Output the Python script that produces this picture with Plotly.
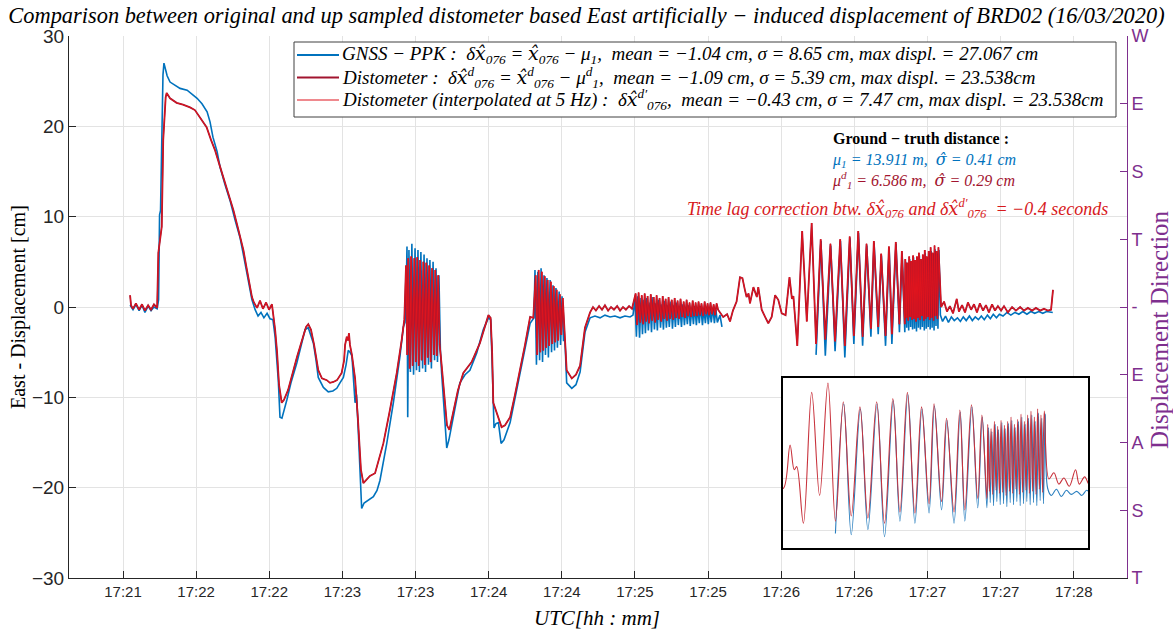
import plotly.graph_objects as go

# ---------------- data (time in s after 17:21:00, displacement in cm) ----------------
tick_vals = [45, 75, 105, 135, 165, 195, 225, 255, 285, 315, 345, 375, 405, 435]
tick_text = ["17:21", "17:22", "17:22", "17:23", "17:23", "17:24", "17:24", "17:25",
             "17:25", "17:26", "17:26", "17:27", "17:27", "17:28"]
dir_vals = [-30, -22.5, -15, -7.5, 0, 7.5, 15, 22.5, 30]
dir_text = ["T", "S", "A", "E", "-", "T", "S", "E", "W"]

# GNSS-PPK
gnss_t_a = [47.9,49.1,50.3,51.6,52.8,54.0,55.3,56.5,57.7,59.0,59.6,60.0,60.4,61.0,61.4,61.8,62.4,63.1,64.3,65.9,
            68.4,71.3,73.7,75.4,77.4,79.5,80.7,81.9,83.6,84.8,86.8,88.9,91.0,93.0,94.6,95.9,97.1,97.9,99.2,100.4,
            101.6,102.8,104.1,105.3,106.5]
gnss_v_a = [0.2,-0.3,0.3,-0.4,0.2,-0.6,0.1,-0.4,0.0,-0.2,0.8,10.2,10.7,20.7,25.7,27.0,26.2,25.6,24.9,24.6,
            24.2,24.0,23.5,23.1,22.5,21.6,20.5,18.8,17.2,15.5,13.6,11.8,9.6,7.7,5.5,3.8,1.9,0.8,-0.3,-1.0,
            -0.6,-1.2,-0.7,-1.3,-1.4]
gnss_t_b = [107.4,108.1,108.7,109.4,110.2,112.2,113.9,116.3,118.0,119.7,121.0,122.1,123.1,124.2,125.1,127.2,129.2,131.1,132.7,134.0,
            135.4,136.5,137.4,138.1,138.9,140.2,140.8,141.5,142.5,142.9,143.9,145.5,147.7,149.2,150.4,153.2,155.9,158.6,160.0,160.7]
gnss_v_b = [-3.3,-5.9,-8.1,-12.2,-12.3,-10.3,-8.4,-6.2,-4.2,-2.5,-2.3,-3.1,-4.0,-5.9,-7.8,-8.9,-9.4,-9.3,-9.0,-8.4,
            -7.8,-6.4,-4.8,-5.0,-5.4,-10.6,-9.7,-13.6,-20.3,-22.3,-21.7,-21.4,-21.0,-20.3,-19.2,-15.1,-10.6,-5.5,-2.2,-1.7]
gnss_t_burst1 = [161.1,161.5,161.8,162.3,162.9,163.5,164.2,164.8,165.4,166.0,166.6,167.2,167.9,168.5,169.1,169.7,170.3,170.9,171.5,172.2,
                 172.8,173.4,174.0,174.6,175.2,175.7]
gnss_v_burst1 = [0.8,6.7,-12.2,6.3,-7.2,7.0,-7.5,6.5,-7.0,6.3,-7.2,6.1,-6.8,5.8,-7.2,5.4,-6.4,5.2,-6.8,5.0,
                 -5.9,4.3,-6.1,3.5,-4.8,-7.3]
gnss_t_c = [176.7,177.8,178.7,180.5,183.2,185.3,187.3,190.1,192.8,194.9,195.8,196.4,197.2,198.0,199.0,200.1,201.3,203.8,206.5,209.2,
            212.0,213.6]
gnss_v_c = [-11.4,-15.6,-14.7,-12.2,-8.4,-7.5,-7.0,-5.1,-2.5,-1.2,-1.4,-5.9,-13.4,-12.9,-12.8,-15.1,-14.7,-12.8,-9.2,-5.9,
            -1.8,-1.2]
gnss_t_burst2 = [214.0,214.6,215.2,215.9,216.5,217.1,217.7,218.3,218.9,219.5,220.2,220.8,221.4,222.0,222.6,223.2,223.9,224.5,225.1,225.7,226.3]
gnss_v_burst2 = [4.1,-6.4,3.9,-5.9,4.3,-6.1,3.5,-5.3,3.2,-5.6,3.0,-5.0,2.4,-4.8,2.1,-4.5,1.7,-4.2,1.2,-3.7,-3.7]
gnss_t_flat = [227.0,229.1,230.8,232.5,234.5,236.6,238.6,240.7,242.7,244.8,246.8,248.9,250.9,253.0,254.2]
gnss_v_flat = [-8.4,-9.0,-8.6,-7.2,-2.8,-1.2,-1.0,-1.2,-0.9,-1.1,-1.0,-1.2,-1.0,-1.1,-0.9]
gnss_t_burst3 = [255.0,255.6,256.2,256.9,257.5,258.1,258.7,259.3,259.9,260.5,261.2,261.8,262.4,263.0,263.6,264.2,264.8,265.5,266.1,266.7,
                 267.3,267.9,268.5,269.1,269.8,270.4,271.0,271.6,272.2,272.8,273.4,274.1,274.7,275.3,275.9,276.5,277.1,277.7,278.4,279.0,
                 279.6,280.2,280.8,281.4,282.0,282.7,283.3,283.9,284.5,285.1,285.7,286.3,287.0,287.6,288.2,288.8,289.9,290.7]
gnss_v_burst3 = [0.8,-3.3,1.2,-3.4,1.0,-3.0,0.8,-2.9,1.0,-2.6,0.5,-2.8,1.1,-2.5,0.4,-2.6,0.8,-2.3,0.3,-2.5,
                 0.7,-2.3,0.2,-2.2,0.6,-2.4,0.2,-2.2,0.5,-2.0,0.1,-2.2,0.3,-2.0,0.0,-1.9,0.2,-2.1,-0.1,-1.9,
                 0.1,-2.0,-0.1,-1.8,0.1,-2.0,-0.2,-1.8,0.0,-1.9,-0.2,-1.7,-0.1,-1.8,-0.3,-1.7,-0.9,-2.2]
gnss_t_osc = [329.3,331.3,333.1,335.3,337.1,339.3,341.1,343.2,344.8,346.7,348.4,350.1,351.8,353.1,354.8,356.1,357.8,359.3,360.4,362.1,
              363.5,364.6,365.7]
gnss_v_osc = [-5.3,7.3,-5.4,6.8,-4.9,7.3,-5.6,7.6,-4.1,8.2,-4.3,6.8,-3.3,7.1,-3.0,5.7,-4.3,6.5,-4.1,7.0,
              -2.8,6.0,-2.8]
gnss_t_dense = [366.1,366.5,366.9,367.3,367.7,368.1,368.5,368.9,369.3,369.7,370.1,370.5,370.9,371.3,371.7,372.1,372.5,372.9,373.3,373.7,
                374.1,374.5,374.9,375.3,375.7,376.1,376.5,376.9,377.3,377.7,378.1,378.5,378.9,379.3,379.7]
gnss_v_dense = [5.0,-2.3,4.6,-2.6,5.3,-2.2,4.8,-2.5,5.5,-2.4,4.9,-2.7,5.4,-2.3,5.7,-2.5,5.0,-2.2,5.6,-2.6,
                6.0,-2.4,5.3,-2.2,5.9,-2.5,6.2,-2.3,5.6,-2.6,6.4,-2.1,5.9,-2.4,6.3]
gnss_t_tail = [380.3,381.2,382.4,383.6,384.8,386.0,387.3,388.5,389.7,390.9,392.2,393.4,394.6,395.9,397.1,398.3,399.6,400.8,402.0,403.3,
               404.5,406.0,407.6,409.2,410.9,412.5,414.1,415.8,417.4,419.0,420.7,422.3,423.9,425.5,426.4]
gnss_v_tail = [-0.9,-1.6,-1.0,-1.7,-1.1,-1.5,-1.2,-1.6,-1.1,-1.5,-1.0,-1.5,-1.1,-1.4,-1.0,-1.4,-0.9,-1.3,-0.8,-1.2,
               -0.8,-1.0,-0.6,-0.9,-0.6,-0.8,-0.5,-0.8,-0.5,-0.7,-0.5,-0.7,-0.5,-0.6,-0.6]

# Distometer
dist_t_a = [47.9,48.3,49.1,50.3,51.6,52.8,54.0,55.3,56.5,57.7,59.0,59.5,60.9,61.5,62.5,62.9,64.3,67.0,69.6,72.5,
            74.5,76.6,79.3,81.1,82.7,84.4,86.1,88.1,90.3,92.2,94.4,95.5,97.1,97.9,98.7,100.0,101.2,102.4,103.7,104.9,
            106.1,106.7]
dist_v_a = [1.3,0.2,-0.2,0.4,-0.3,0.3,-0.4,0.2,-0.3,0.3,-0.1,6.0,8.9,18.5,23.2,23.7,23.1,22.6,22.4,22.1,
            21.8,21.0,19.9,18.5,17.4,15.9,14.4,12.6,10.7,8.7,6.3,4.6,2.2,1.1,0.5,-0.1,0.7,-0.2,0.5,-0.3,
            0.3,-0.9]
dist_t_b = [107.4,108.2,109.0,110.1,111.0,112.7,114.3,116.4,118.4,120.1,121.0,122.1,123.4,125.1,126.6,128.6,129.9,131.3,132.8,134.7,
            135.7,136.1,136.8,137.3,137.7,138.1,138.9,140.2,141.4,142.6,143.6,144.7,146.3,148.4,151.8,154.5,157.3,159.3,160.4]
dist_v_b = [-2.5,-5.0,-8.6,-10.6,-10.3,-9.2,-7.5,-5.5,-3.7,-2.2,-1.9,-2.5,-4.2,-7.0,-7.9,-8.1,-8.4,-8.3,-8.1,-7.3,
            -5.9,-4.2,-3.3,-3.7,-2.9,-4.2,-5.3,-7.9,-12.5,-18.0,-19.5,-19.2,-18.7,-18.4,-15.1,-11.4,-7.3,-3.7,-1.4]
dist_t_burst1 = [161.1,161.6,162.0,162.6,163.2,163.8,164.5,165.1,165.7,166.3,166.9,167.5,168.2,168.8,169.4,170.0,170.6,171.2,171.8,172.5,
                 173.1,173.7,174.3,174.9,175.7]
dist_v_burst1 = [4.6,-5.3,5.4,-6.8,5.6,-6.5,5.4,-6.1,5.5,-6.5,5.2,-5.9,5.0,-6.4,4.9,-5.6,4.6,-6.1,4.3,-5.3,
                 4.1,-5.4,3.5,-4.2,-6.4]
dist_t_c = [176.7,177.9,178.9,180.5,182.4,184.6,188.0,191.4,193.5,194.9,195.8,196.4,196.9,198.0,199.2,200.3,201.7,203.8,205.8,207.9,
            209.9,212.0,213.3]
dist_v_c = [-9.7,-13.1,-13.6,-11.4,-9.2,-7.3,-6.1,-4.0,-2.0,-0.9,-1.2,-4.8,-10.6,-11.4,-12.5,-13.3,-13.1,-12.2,-9.7,-7.0,
            -4.2,-1.1,-1.2]
dist_t_burst2 = [214.3,214.9,215.5,216.2,216.8,217.4,218.0,218.6,219.2,219.8,220.5,221.1,221.7,222.3,222.9,223.5,224.2,224.8,225.4,226.0]
dist_v_burst2 = [3.5,-5.3,4.1,-5.0,3.9,-4.8,3.4,-4.5,3.0,-4.3,2.8,-4.1,2.3,-3.9,1.9,-3.7,1.4,-3.1,1.0,-2.5]
dist_t_flat = [227.0,229.1,230.8,232.5,234.5,236.6,237.8,239.0,240.3,241.5,242.7,244.0,245.2,246.4,247.7,248.9,250.1,251.3,252.6,253.8]
dist_v_flat = [-7.0,-7.9,-7.5,-6.5,-2.3,-0.6,0.0,-0.4,0.1,-0.3,0.2,-0.4,0.0,-0.3,0.1,-0.4,0.0,-0.3,0.1,-0.2]
dist_t_burst3 = [255.3,255.9,256.5,257.2,257.8,258.4,259.0,259.6,260.2,260.8,261.5,262.1,262.7,263.3,263.9,264.5,265.1,265.8,266.4,267.0,
                 267.6,268.2,268.8,269.4,270.1,270.7,271.3,271.9,272.5,273.1,273.7,274.4,275.0,275.6,276.2,276.8,277.4,278.0,278.7,279.3,
                 279.9,280.5,281.1,281.7,282.3,283.0,283.6,284.2,284.8,285.4,286.0,286.6,287.3,287.9,288.5,289.1]
dist_v_burst3 = [1.5,-2.0,1.6,-1.7,1.3,-1.9,1.5,-1.6,1.2,-1.8,1.4,-1.5,1.1,-1.7,1.3,-1.4,1.0,-1.6,1.2,-1.3,
                 0.9,-1.5,1.1,-1.3,0.8,-1.4,1.0,-1.2,0.7,-1.3,0.9,-1.1,0.6,-1.2,0.8,-1.0,0.5,-1.1,0.7,-1.0,
                 0.5,-1.0,0.6,-0.9,0.4,-1.0,0.6,-0.8,0.4,-0.9,0.5,-0.8,0.3,-0.9,0.4,-0.3]
dist_t_osc = [291.2,292.8,294.0,295.2,296.7,298.1,299.1,300.1,300.8,301.6,302.2,303.6,305.0,305.6,307.0,308.4,309.7,311.1,312.5,313.8,
              315.2,316.8,318.4,319.4,320.0,321.6,323.6,325.5,327.5,329.3,331.2,333.1,335.2,337.1,339.2,341.1,343.1,344.8,346.6,348.4,
              350.0,351.8,353.0,354.8,356.0,357.8,359.2,360.4,362.0,363.5,364.5,365.7]
dist_v_osc = [-1.1,-0.8,-1.6,-0.4,0.6,3.3,3.2,1.9,1.1,1.5,0.4,2.2,1.1,2.2,-0.3,-1.1,-1.8,-1.1,1.3,0.8,
              -0.7,-0.9,3.3,0.9,1.2,-4.3,8.4,-1.6,9.3,-4.1,7.5,-3.6,7.0,-3.8,7.5,-4.3,7.8,-3.2,8.4,-3.3,
              7.0,-2.4,7.3,-2.2,5.9,-3.2,6.7,-3.0,7.2,-1.9,6.2,-1.9]
dist_t_dense = [365.9,366.3,366.7,367.1,367.5,367.9,368.3,368.7,369.1,369.5,369.9,370.3,370.7,371.1,371.5,371.9,372.3,372.7,373.1,373.5,
                373.9,374.3,374.7,375.1,375.5,375.9,376.3,376.7,377.1,377.5,377.9,378.3,378.7,379.1,379.5]
dist_v_dense = [5.3,-1.2,4.9,-1.5,5.6,-1.1,5.1,-1.4,5.7,-1.3,5.2,-1.6,5.6,-1.2,6.0,-1.4,5.3,-1.0,5.8,-1.5,
                6.3,-1.3,5.6,-1.1,6.2,-1.4,6.6,-1.2,6.0,-1.5,6.8,-1.0,6.2,-1.3,6.6]
dist_t_tail = [380.6,381.8,383.0,384.2,385.5,387.0,387.9,389.2,390.4,391.6,392.9,394.1,395.3,396.5,397.8,399.0,400.2,401.5,402.7,403.9,
               405.2,406.4,408.0,409.7,411.3,413.0,414.6,416.2,417.9,419.5,421.2,422.8,424.4,425.7,426.5]
dist_v_tail = [0.0,0.6,-0.5,0.1,-0.7,0.9,-0.5,0.2,-0.6,0.5,-0.3,0.3,-0.6,0.4,-0.4,0.2,-0.6,0.3,-0.4,0.1,
               -0.4,0.1,-0.6,0.0,-0.4,0.0,-0.4,-0.1,-0.4,-0.1,-0.4,-0.2,-0.4,-0.3,1.9]

gnss_t = (gnss_t_a + gnss_t_b + gnss_t_burst1 + gnss_t_c + gnss_t_burst2 + gnss_t_flat + gnss_t_burst3
          + [None] + gnss_t_osc + gnss_t_dense + gnss_t_tail)
gnss_v = (gnss_v_a + gnss_v_b + gnss_v_burst1 + gnss_v_c + gnss_v_burst2 + gnss_v_flat + gnss_v_burst3
          + [None] + gnss_v_osc + gnss_v_dense + gnss_v_tail)
dist_t = (dist_t_a + dist_t_b + dist_t_burst1 + dist_t_c + dist_t_burst2 + dist_t_flat + dist_t_burst3
          + dist_t_osc + dist_t_dense + dist_t_tail)
dist_v = (dist_v_a + dist_v_b + dist_v_burst1 + dist_v_c + dist_v_burst2 + dist_v_flat + dist_v_burst3
          + dist_v_osc + dist_v_dense + dist_v_tail)

BLUE = "#0072BD"
DRED = "#A2142F"
RED = "#E0141E"
PURPLE = "#7E2F8E"
GRID = "#E3E3E3"
SERIF = "Liberation Serif"
SANS = "Liberation Sans"
HAT = "<span style=\"font-family:'DejaVu Serif'\">{}\u0302</span>"
xh = HAT.format("x")
sh = HAT.format("σ")

legend_text = [
    f"<i>GNSS − PPK :  δ{xh}<sub>076</sub> = {xh}<sub>076</sub> − μ<sub>1</sub>,  mean = −1.04 cm, σ = 8.65 cm, max displ. = 27.067 cm</i>",
    f"<i>Distometer :  δ{xh}<sup>d</sup><sub>076</sub> = {xh}<sup>d</sup><sub>076</sub> − μ<sup>d</sup><sub>1</sub>,  mean = −1.09 cm, σ = 5.39 cm, max displ. = 23.538cm</i>",
    f"<i>Distometer (interpolated at 5 Hz) :  δ{xh}<sup>d′</sup><sub>076</sub>,  mean = −0.43 cm, σ = 7.47 cm, max displ. = 23.538cm</i>",
]
legend_colors = [BLUE, DRED, RED]
legend_widths = [2, 2, 1.2]

fig = go.Figure()
fig.add_trace(go.Scatter(x=gnss_t, y=gnss_v, mode="lines", line=dict(color=BLUE, width=1.6),
                         name="GNSS", connectgaps=False))
fig.add_trace(go.Scatter(x=dist_t, y=dist_v, mode="lines", line=dict(color=DRED, width=1.8), name="Distometer"))
fig.add_trace(go.Scatter(x=dist_t, y=dist_v, mode="lines", line=dict(color=RED, width=1.0), name="Distometer 5 Hz"))
# right axis carrier
fig.add_trace(go.Scatter(x=[None], y=[None], yaxis="y3", showlegend=False, hoverinfo="skip"))
# inset
fig.add_trace(go.Scatter(x=gnss_t, y=gnss_v, mode="lines", line=dict(color="#2A7FBF", width=1.1, shape="spline", smoothing=1),
                         xaxis="x2", yaxis="y2", showlegend=False, connectgaps=False))
fig.add_trace(go.Scatter(x=dist_t, y=dist_v, mode="lines", line=dict(color="#C8323C", width=1.1, shape="spline", smoothing=1),
                         xaxis="x2", yaxis="y2", showlegend=False))

W, H = 1173, 631
L, R, T, B = 69, 1127, 36, 578
def px(xp):
    return (xp - L) / (R - L)
def py(yp):
    return (B - yp) / (B - T)

fig.update_layout(
    width=W, height=H,
    margin=dict(l=L, r=W - R, t=T, b=H - B),
    paper_bgcolor="white", plot_bgcolor="white",
    showlegend=False,
    title=dict(text="<i>Comparison between original and up sampled distometer based East artificially − induced displacement of BRD02 (16/03/2020)</i>",
               x=0.5, xanchor="center", y=1 - 15 / H, yanchor="middle",
               font=dict(family=SERIF, size=22.4, color="black")),
    xaxis=dict(range=[22.85, 456.85], tickvals=tick_vals, ticktext=tick_text, ticks="inside", ticklen=7,
               tickcolor="#262626", showline=True, linecolor="#262626", linewidth=1, mirror=False,
               showgrid=True, gridcolor=GRID, zeroline=False,
               tickfont=dict(family=SANS, size=15, color="#262626")),
    yaxis=dict(range=[-30, 30], tickvals=[-30, -20, -10, 0, 10, 20, 30], ticks="inside", ticklen=7,
               tickcolor="#262626", showline=True, linecolor="#262626", linewidth=1, mirror=False,
               showgrid=True, gridcolor=GRID, zeroline=False,
               tickfont=dict(family=SANS, size=19, color="#262626")),
    yaxis3=dict(range=[-30, 30], overlaying="y", side="right", anchor="x", tickvals=dir_vals, ticktext=dir_text,
                ticks="inside", ticklen=7, tickcolor=PURPLE, showline=True, linecolor=PURPLE, linewidth=1,
                showgrid=False, zeroline=False, tickfont=dict(family=SANS, size=18, color=PURPLE)),
    xaxis2=dict(domain=[px(783), px(1088)], anchor="y2", range=[316.7, 390.0], tickvals=[375],
                showticklabels=False, ticks="", showgrid=True, gridcolor=GRID, zeroline=False,
                showline=True, mirror=True, linecolor="black", linewidth=2),
    yaxis2=dict(domain=[py(548), py(378)], anchor="x2", range=[-6.7, 9.8], tickvals=[-5, 0],
                showticklabels=False, ticks="", showgrid=True, gridcolor=GRID, zeroline=False,
                showline=True, mirror=True, linecolor="black", linewidth=2),
)

# white cover behind the inset (hides main grid)
fig.add_shape(type="rect", xref="x", yref="y", x0=315.7, x1=440.9, y0=-26.7, y1=-7.9,
              fillcolor="white", line=dict(width=0), layer="between")

# legend box (drawn by hand to match the reference layout)
fig.add_shape(type="rect", xref="paper", yref="paper", x0=px(294), x1=px(1116), y0=py(117), y1=py(42),
              fillcolor="white", line=dict(color="#404040", width=1), layer="above")
legend_rows = [55, 77.5, 100]
for row, txt, col, lw in zip(legend_rows, legend_text, legend_colors, legend_widths):
    fig.add_shape(type="line", xref="paper", yref="paper", x0=px(297), x1=px(339), y0=py(row), y1=py(row),
                  line=dict(color=col, width=lw), layer="above")
    fig.add_annotation(text=txt, x=px(340), y=py(row), xref="paper", yref="paper", xanchor="left",
                       yanchor="middle", showarrow=False, font=dict(family=SERIF, size=19, color="black"))

# ground-truth block (one multi-line text)
gt_text = ("<b>Ground − truth distance :</b><br>"
           f"<span style='color:{BLUE}'><i>μ<sub>1</sub> = 13.911 m,  {sh} = 0.41 cm</i></span><br>"
           f"<span style='color:{DRED}'><i>μ<sup>d</sup><sub>1</sub> = 6.586 m,  {sh} = 0.29 cm</i></span>")
fig.add_annotation(text=gt_text, x=px(830), y=py(128), xref="paper", yref="paper", xanchor="left",
                   yanchor="top", align="left", showarrow=False,
                   font=dict(family=SERIF, size=16, color="black"))
fig.add_annotation(text=f"<i>Time lag correction btw. δ{xh}<sub>076</sub> and δ{xh}<sup>d′</sup><sub>076</sub>  = −0.4 seconds</i>",
                   x=px(685), y=py(208), xref="paper", yref="paper", xanchor="left", yanchor="middle",
                   showarrow=False, font=dict(family=SERIF, size=18, color="#D7191C"))

fig.add_annotation(text="East - Displacement [cm]", x=px(18), y=py(307), xref="paper", yref="paper",
                   textangle=-90, showarrow=False, xanchor="center", yanchor="middle",
                   font=dict(family=SERIF, size=20, color="black"))
fig.add_annotation(text="Displacement Direction", x=px(1159), y=py(330), xref="paper", yref="paper",
                   textangle=-90, showarrow=False, xanchor="center", yanchor="middle",
                   font=dict(family=SERIF, size=25, color=PURPLE))
fig.add_annotation(text="<i>UTC[hh : mm]</i>", x=px(597), y=py(618), xref="paper", yref="paper",
                   showarrow=False, xanchor="center", yanchor="middle",
                   font=dict(family=SERIF, size=21, color="black"))

fig.write_html("out.html")
